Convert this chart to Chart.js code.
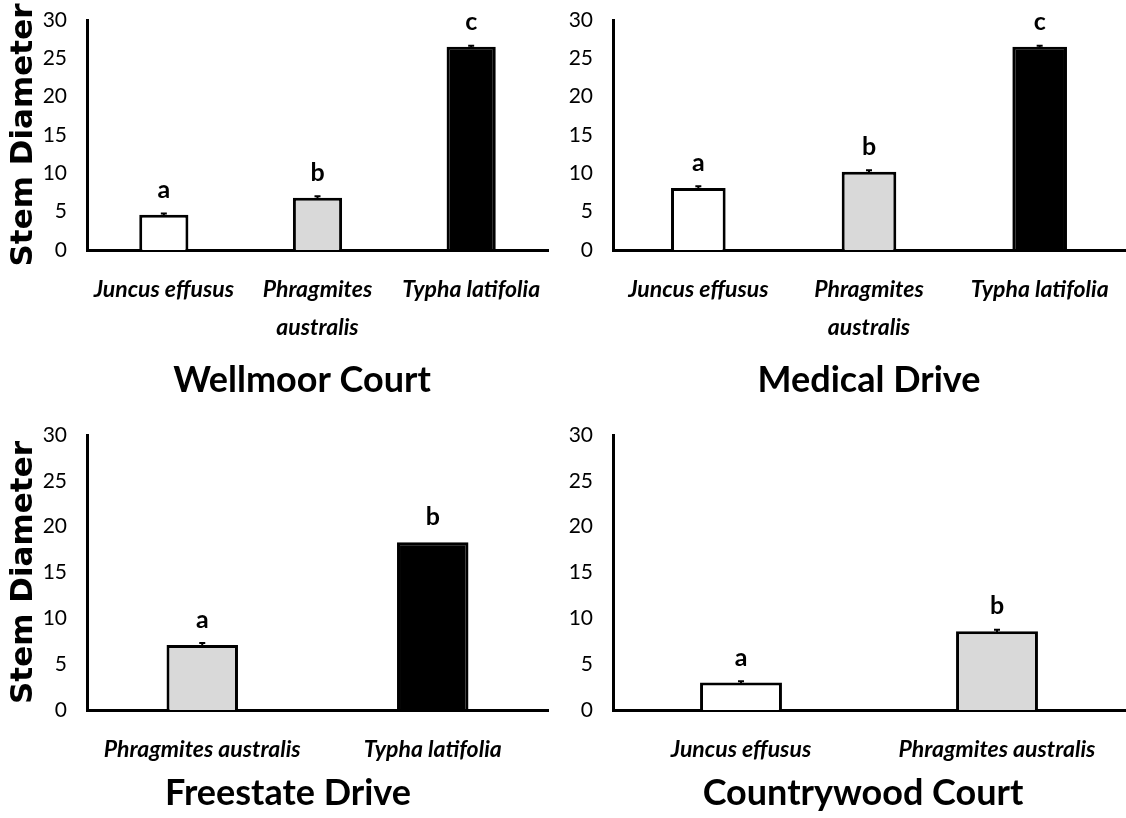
<!DOCTYPE html>
<html>
<head>
<meta charset="utf-8">
<title>Stem Diameter</title>
<script src="https://cdn.jsdelivr.net/npm/chart.js@4.4.1/dist/chart.umd.min.js"></script>
<style>
	body { margin: 0; background: #fff; overflow: hidden; width: 1126px; height: 818px; position: relative; }
	canvas { position: absolute; }
</style>
</head>
<body>
<canvas id="wellmoor"></canvas>
<canvas id="medical"></canvas>
<canvas id="freestate"></canvas>
<canvas id="countrywood"></canvas>
<script>
// values
var yTicks = [0, 5, 10, 15, 20, 25, 30];
var yLabel = "Stem Diameter";

var wellmoorLabels = ["Juncus effusus", ["Phragmites", "australis"], "Typha latifolia"];
var wellmoorMeans = [4.6, 6.8, 26.5];
var wellmoorErr = [0.15, 0.2, 0.15];
var wellmoorLetters = ["a", "b", "c"];

var medicalLabels = ["Juncus effusus", ["Phragmites", "australis"], "Typha latifolia"];
var medicalMeans = [8.1, 10.2, 26.5];
var medicalErr = [0.2, 0.2, 0.15];
var medicalLetters = ["a", "b", "c"];

var freestateLabels = ["Phragmites australis", "Typha latifolia"];
var freestateMeans = [7.1, 18.3];
var freestateErr = [0.2, 0];
var freestateLetters = ["a", "b"];

var countrywoodLabels = ["Juncus effusus", "Phragmites australis"];
var countrywoodMeans = [3.0, 8.6];
var countrywoodErr = [0.15, 0.15];
var countrywoodLetters = ["a", "b"];

var FONT = 'Lato, "Open Sans", sans-serif';

//bar colour goes by species
function speciesColor(label){
	var name = Array.isArray(label) ? label.join(" ") : label;
	if (name.indexOf("Juncus") == 0) return "#ffffff";
	if (name.indexOf("Phragmites") == 0) return "#d9d9d9";
	return "#000000";
}

//error whiskers and significance letters on top of the bars
var annotate = {
	id: "annotate",
	afterDatasetsDraw: function(chart){
		var ctx = chart.ctx, y = chart.scales.y;
		var ds = chart.data.datasets[0];
		var bars = chart.getDatasetMeta(0).data;
		ctx.save();
		for (var i = 0; i < bars.length; i++){
			var v = ds.data[i], e = ds.err[i], x = bars[i].x;
			if (e > 0){
				ctx.strokeStyle = "#000";
				ctx.lineWidth = 2;
				ctx.beginPath();
				ctx.moveTo(x, y.getPixelForValue(v - e));
				ctx.lineTo(x, y.getPixelForValue(v + e));
				ctx.moveTo(x - 3, y.getPixelForValue(v + e));
				ctx.lineTo(x + 3, y.getPixelForValue(v + e));
				ctx.stroke();
			}
			ctx.fillStyle = "#000";
			ctx.font = "bold 25px " + FONT;
			ctx.textAlign = "center";
			ctx.textBaseline = "middle";
			ctx.fillText(ds.letters[i], x, y.getPixelForValue(v) - 25);
		}
		ctx.restore();
	}
};

function makePanel(id, box, title, labels, means, err, letters){
	var canvas = document.getElementById(id);
	canvas.width = box.width;
	canvas.height = box.height;
	canvas.style.left = box.left + "px";
	canvas.style.top = box.top + "px";
	canvas.style.width = box.width + "px";
	canvas.style.height = box.height + "px";

	return new Chart(canvas.getContext("2d"), {
		type: "bar",
		data: {
			labels: labels,
			datasets: [{
				data: means,
				err: err,
				letters: letters,
				backgroundColor: labels.map(speciesColor),
				borderColor: "#000",
				borderWidth: 3,
				barPercentage: box.barPct,
				categoryPercentage: 1
			}]
		},
		options: {
			responsive: false,
			animation: false,
			layout: { padding: 0 },
			plugins: {
				legend: { display: false },
				tooltip: { enabled: false },
				title: {
					display: true,
					text: title,
					position: "bottom",
					color: "#000",
					padding: 0,
					font: { family: FONT, size: 36, weight: "bold", lineHeight: 48 / 36 }
				}
			},
			scales: {
				x: {
					grid: { display: false, drawTicks: false },
					border: { color: "#000", width: 3 },
					ticks: {
						color: "#000",
						padding: 21,
						maxRotation: 0,
						autoSkip: false,
						font: { family: FONT, size: 23, style: "italic", weight: "bold", lineHeight: 38 / 23 }
					},
					afterFit: function(scale){ scale.height = box.xHeight; }
				},
				y: {
					min: yTicks[0],
					max: yTicks[yTicks.length - 1],
					grid: { display: false, drawTicks: false },
					border: { color: "#000", width: 3 },
					ticks: {
						stepSize: yTicks[1] - yTicks[0],
						color: "#000",
						padding: 20,
						font: { family: FONT, size: 21, lineHeight: 24 / 21 }
					},
					title: {
						display: box.showYTitle,
						text: yLabel,
						color: "#000",
						padding: { top: 5, bottom: 0 },
						font: { family: '"DejaVu Sans", sans-serif', size: 31, weight: "bold" }
					},
					afterFit: function(scale){ scale.width = box.yWidth; }
				},
				//empty spacer on the right so the panel title sits where the original has it
				gap: {
					position: "right",
					display: true,
					grid: { display: false, drawTicks: false },
					border: { display: false },
					ticks: { display: false },
					afterFit: function(scale){ scale.width = box.rightGap; }
				}
			}
		},
		plugins: [annotate]
	});
}

makePanel("wellmoor", { left: 0, top: -12, width: 604, height: 416, yWidth: 87, rightGap: 56, xHeight: 106, barPct: 0.32, showYTitle: true },
	"Wellmoor Court", wellmoorLabels, wellmoorMeans, wellmoorErr, wellmoorLetters);
makePanel("medical", { left: 560, top: -12, width: 618, height: 416, yWidth: 53, rightGap: 53, xHeight: 106, barPct: 0.32, showYTitle: false },
	"Medical Drive", medicalLabels, medicalMeans, medicalErr, medicalLetters);
makePanel("freestate", { left: 0, top: 403, width: 576, height: 414, yWidth: 87, rightGap: 28, xHeight: 59, barPct: 0.31, showYTitle: true },
	"Freestate Drive", freestateLabels, freestateMeans, freestateErr, freestateLetters);
makePanel("countrywood", { left: 560, top: 403, width: 606, height: 414, yWidth: 53, rightGap: 41, xHeight: 59, barPct: 0.32, showYTitle: false },
	"Countrywood Court", countrywoodLabels, countrywoodMeans, countrywoodErr, countrywoodLetters);
</script>
</body>
</html>
